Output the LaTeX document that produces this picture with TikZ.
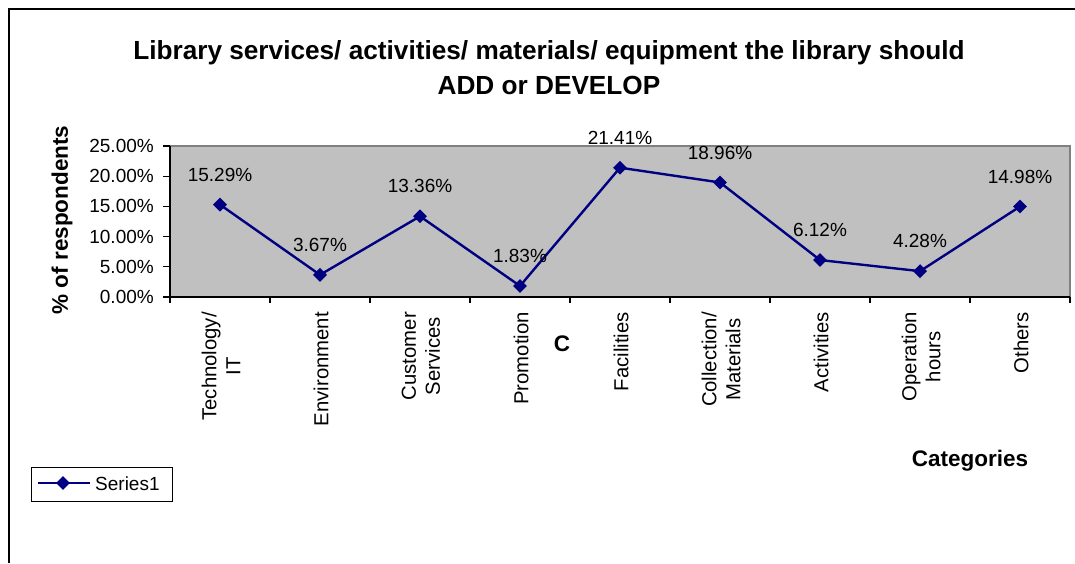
\documentclass[tikz,border=0pt]{standalone}
\usepackage{fontspec}
\setmainfont{Liberation Sans}
\usepackage{tikz}
\usetikzlibrary{positioning,shapes.geometric}
\definecolor{navyline}{HTML}{000080}
\definecolor{plotgray}{HTML}{C0C0C0}
\definecolor{plotedge}{HTML}{808080}
\newcommand{\chartnormal}{\fontsize{19}{22}\selectfont}
\newcommand{\chartcat}{\fontsize{20.3}{24}\selectfont}
\newcommand{\chartbold}{\fontsize{22.5}{26}\selectfont\bfseries}
\newcommand{\charttitle}{\fontsize{26.2}{35}\selectfont\bfseries}

\begin{document}
\begin{tikzpicture}[x=1pt, y=-1pt]
	% Define styles for the chart
	\tikzset{
		plotarea/.style={
			draw=plotedge,
			fill=plotgray,
			line width=1.2pt
		},
		seriesline/.style={
			draw=navyline,
			line width=2.4pt,
			line join=round
		},
		marker/.style={
			diamond,
			fill=navyline,
			inner sep=0pt,
			minimum size=14pt
		},
		valuelabel/.style={
			font=\chartnormal,
			inner sep=0pt
		},
		catlabel/.style={
			font=\chartcat,
			rotate=90,
			anchor=east,
			align=center,
			inner sep=0pt
		},
		boldlabel/.style={
			font=\chartbold,
			inner sep=0pt
		}
	}
	\useasboundingbox (0,0) rectangle (1075,563);
	
	% Outer chart frame
	\coordinate (frameBL) at (9,563);
	\coordinate (frameTL) at (9,9);
	\coordinate (frameTR) at (1075,9);
	\draw[line width=1.6pt] (frameBL) -- (frameTL) -- (frameTR);
	
	% Title
	\node[font=\charttitle, align=center, inner sep=0pt] (title) at (549,68) {Library services/ activities/ materials/ equipment the library should\\ADD or DEVELOP};
	
	% Plot area and axes
	\coordinate (origin) at (170,297);
	\coordinate (ytop) at (170,146);
	\coordinate (xend) at (1070,297);
	\draw[plotarea] (ytop) rectangle (xend);
	\draw[line width=1.2pt] (ytop) -- (origin) -- (xend);
	
	% Y axis ticks and labels
	\foreach \k/\txt in {0/0.00,1/5.00,2/10.00,3/15.00,4/20.00,5/25.00} {
		\draw[line width=1.2pt] (170,297-30.2*\k) -- ++(-7,0);
		\node[valuelabel, anchor=east] (ytick\k) at (154,297-30.2*\k) {\txt\%};
	}
	\node[boldlabel, rotate=90] (ytitle) at (62,220) {\% of respondents};
	
	% X axis ticks and category labels
	\foreach \i in {0,...,9} {
		\draw[line width=1.2pt] (170+100*\i,297) -- ++(0,6);
	}
	\foreach \name [count=\i] in {{Technology/\\IT},Environment,{Customer\\Services},Promotion,Facilities,{Collection/\\Materials},Activities,{Operation\\hours},Others} {
		\node[catlabel] (cat\i) at (121+100*\i,312) {\name};
	}
	\node[boldlabel] (stray) at (562,344) {C};
	\node[boldlabel] (xtitle) at (970,461) {Categories};
	
	% Data points for Series1
	\foreach \val [count=\i] in {15.29,3.67,13.36,1.83,21.41,18.96,6.12,4.28,14.98} {
		\coordinate (p\i) at (120+100*\i,297-6.04*\val);
	}
	\draw[seriesline] (p1) -- (p2) -- (p3) -- (p4) -- (p5) -- (p6) -- (p7) -- (p8) -- (p9);
	\foreach \val [count=\i] in {15.29,3.67,13.36,1.83,21.41,18.96,6.12,4.28,14.98} {
		\node[marker] (m\i) at (p\i) {};
		\node[valuelabel] (v\i) at ([yshift=30pt]p\i) {\val\%};
	}
	
	% Legend
	\node[draw, line width=1pt, minimum width=141pt, minimum height=34pt, inner sep=0pt] (legend) at (101.5,484) {};
	\coordinate (legA) at (38,483);
	\coordinate (legB) at (90,483);
	\draw[seriesline] (legA) -- (legB);
	\node[marker] (legmark) at (63,483) {};
	\node[valuelabel, anchor=west] (legtext) at (95,484) {Series1};
\end{tikzpicture}
\end{document}
